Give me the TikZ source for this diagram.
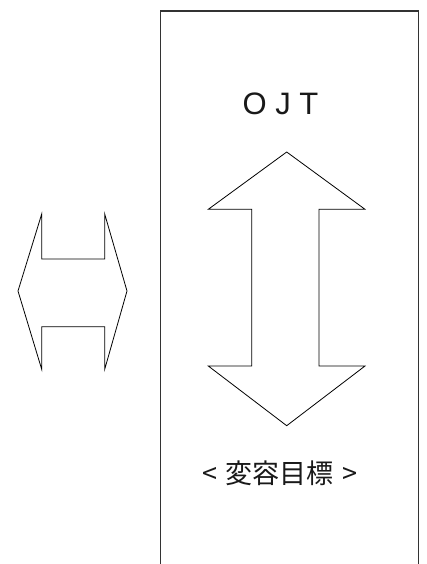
\documentclass[tikz,border=0pt]{standalone}
\usepackage{fontspec}
\setmainfont{Liberation Sans}
\newfontfamily\cjk{Noto Sans CJK JP}
\tikzset{
  frameline/.style={draw=black!80, line width=1.2pt},
  arrowshape/.style={draw=black, line width=0.8pt, line join=miter},
  lbl/.style={inner sep=0pt, text=black!90}
}
\begin{document}
\begin{tikzpicture}[x=1pt,y=-1pt]
\useasboundingbox (0,0) rectangle (427,564);
% frame (open at bottom)
\coordinate (fbl) at (160.5,564);
\coordinate (ftl) at (160.5,11);
\coordinate (ftr) at (418.7,11);
\coordinate (fbr) at (418.7,564);
\draw[frameline] (fbl) -- (ftl) -- (ftr) -- (fbr);
% texts
\node[lbl, font=\fontsize{31}{36}\selectfont] (ojt) at (280.5,104) {O J T};
\node[lbl, font=\cjk\fontsize{27}{30}\selectfont] (goal) at (280,473) {<\hspace{9pt}変容目標\hspace{9pt}>};
% vertical double arrow
\draw[arrowshape] (286.7,152) -- (365,209.3) -- (319,209.3) -- (319,366) -- (365,366)
  -- (286.7,425.7) -- (208.3,366) -- (251.7,366) -- (251.7,209.3) -- (208.3,209.3) -- cycle;
% horizontal double arrow
\draw[arrowshape] (18,291) -- (41.7,214) -- (41.7,259) -- (104.7,259) -- (104.7,214)
  -- (127,291) -- (104.7,369.3) -- (104.7,326.7) -- (41.7,326.7) -- (41.7,369.3) -- cycle;
\end{tikzpicture}
\end{document}
